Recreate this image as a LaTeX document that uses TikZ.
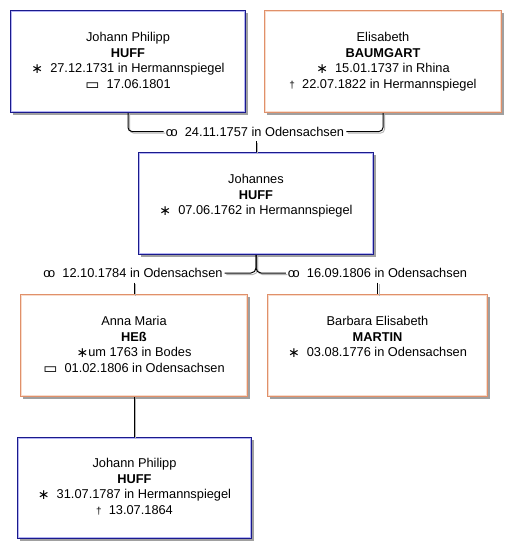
\documentclass[tikz,border=0pt]{standalone}
\usepackage{fontspec}
\setmainfont{Liberation Sans}
\newfontfamily\symf{DejaVu Sans}
\definecolor{bluedark}{HTML}{1A1A8C}
\definecolor{bluelight}{HTML}{B4B4F4}
\definecolor{orgdark}{HTML}{E0906A}
\definecolor{orglight}{HTML}{F8DCCC}
\definecolor{shgray}{HTML}{A0A0A0}
\definecolor{lnshadow}{HTML}{B4B4B4}
\newcommand{\marr}{\smash{o\kern-2.4pt o}}
\newcommand{\birth}{\smash{\raisebox{-1pt}{\symf\fontsize{14}{14}\selectfont ∗}}}
\newcommand{\burial}{\smash{\raisebox{-1pt}{\symf\fontsize{15}{15}\selectfont ▭}}}
\newcommand{\death}{\smash{\raisebox{0.5pt}{\fontsize{10}{10}\selectfont †}}}
\tikzset{
  pbox/.style 2 args={draw=#1, line width=1pt, fill=white, inner sep=0pt,
    anchor=north west,
    path picture={\draw[#2, line width=1pt]
      ([shift={(1pt,-1pt)}]path picture bounding box.north west) rectangle
      ([shift={(-1pt,1pt)}]path picture bounding box.south east);}},
  bluebox/.style={pbox={bluedark}{bluelight}},
  orgbox/.style={pbox={orgdark}{orglight}},
  ptext/.style={align=center, font=\fontsize{12.8}{15.7}\selectfont, inner sep=0pt, anchor=north},
  mlabel/.style={font=\fontsize{12.8}{15.7}\selectfont, inner xsep=2pt, inner ysep=5pt,
    text height=9pt, text depth=0pt},
  conn/.style={line width=1pt, draw=black,
    preaction={draw=lnshadow, line width=0.9pt, transform canvas={shift={(1.6pt,-1.6pt)}}}},
  boxshadow/.style={fill=shgray, draw=none},
}
\begin{document}
\begin{tikzpicture}[x=1pt, y=-1pt]
\fill[white] (0,0) rectangle (520,558);
\useasboundingbox (0,0) rectangle (520,558);

% box shadows
\fill[boxshadow] (13,13) rectangle (248,115);
\fill[boxshadow] (267,13) rectangle (504,115);
\fill[boxshadow] (141,155) rectangle (376,257);
\fill[boxshadow] (23,297) rectangle (250,399);
\fill[boxshadow] (270,297) rectangle (490,399);
\fill[boxshadow] (20,440) rectangle (254,541);

% boxes
\node[bluebox, minimum width=235pt, minimum height=102pt] (jp) at (10,10) {};
\node[orgbox, minimum width=237pt, minimum height=102pt] (eb) at (264,10) {};
\node[bluebox, minimum width=235pt, minimum height=102pt] (jo) at (138,152) {};
\node[orgbox, minimum width=227pt, minimum height=102pt] (am) at (20,294) {};
\node[orgbox, minimum width=220pt, minimum height=102pt] (bm) at (267,294) {};
\node[bluebox, minimum width=234pt, minimum height=101pt] (ch) at (17,437) {};

% texts
\node[ptext] (jpt) at ([yshift=-22pt]jp.north) {Johann Philipp\\\textbf{HUFF}\\\birth\ \ 27.12.1731 in Hermannspiegel\\\burial\ \ 17.06.1801};
\node[ptext] (ebt) at ([yshift=-22pt]eb.north) {Elisabeth\\\textbf{BAUMGART}\\\birth\ \ 15.01.1737 in Rhina\\\death\ \ 22.07.1822 in Hermannspiegel};
\node[ptext] (jot) at ([yshift=-22pt]jo.north) {Johannes\\\textbf{HUFF}\\\birth\ \ 07.06.1762 in Hermannspiegel};
\node[ptext] (amt) at ([yshift=-22pt]am.north) {Anna Maria\\\textbf{HEß}\\\birth um 1763 in Bodes\\\burial\ \ 01.02.1806 in Odensachsen};
\node[ptext] (bmt) at ([yshift=-22pt]bm.north) {Barbara Elisabeth\\\textbf{MARTIN}\\\birth\ \ 03.08.1776 in Odensachsen};
\node[ptext] (cht) at ([yshift=-21pt]ch.north) {Johann Philipp\\\textbf{HUFF}\\\birth\ \ 31.07.1787 in Hermannspiegel\\\death\ \ 13.07.1864};

% marriage labels
\node[mlabel] (m1) at (255,131.5) {\marr\ \ 24.11.1757 in Odensachsen};
\node[mlabel] (m2) at (133,273) {\marr\ \ 12.10.1784 in Odensachsen};
\node[mlabel] (m3) at (377.5,273) {\marr\ \ 16.09.1806 in Odensachsen};

% connectors
\draw[conn, rounded corners=4pt] (jp.south) |- (m1.west);
\draw[conn, rounded corners=4pt] (m1.east) -| (eb.south);
\draw[conn] (m1.south -| jo.north) -- (jo.north);
\draw[conn, rounded corners=5pt] (jo.south) |- (m2.east);
\draw[conn, rounded corners=5pt] (jo.south) |- (m3.west);
\draw[conn] (m2.south -| am.north) -- (am.north);
\draw[conn] (m3.south -| bm.north) -- (bm.north);
\draw[conn] (am.south) -- (am.south |- ch.north);
\end{tikzpicture}
\end{document}
